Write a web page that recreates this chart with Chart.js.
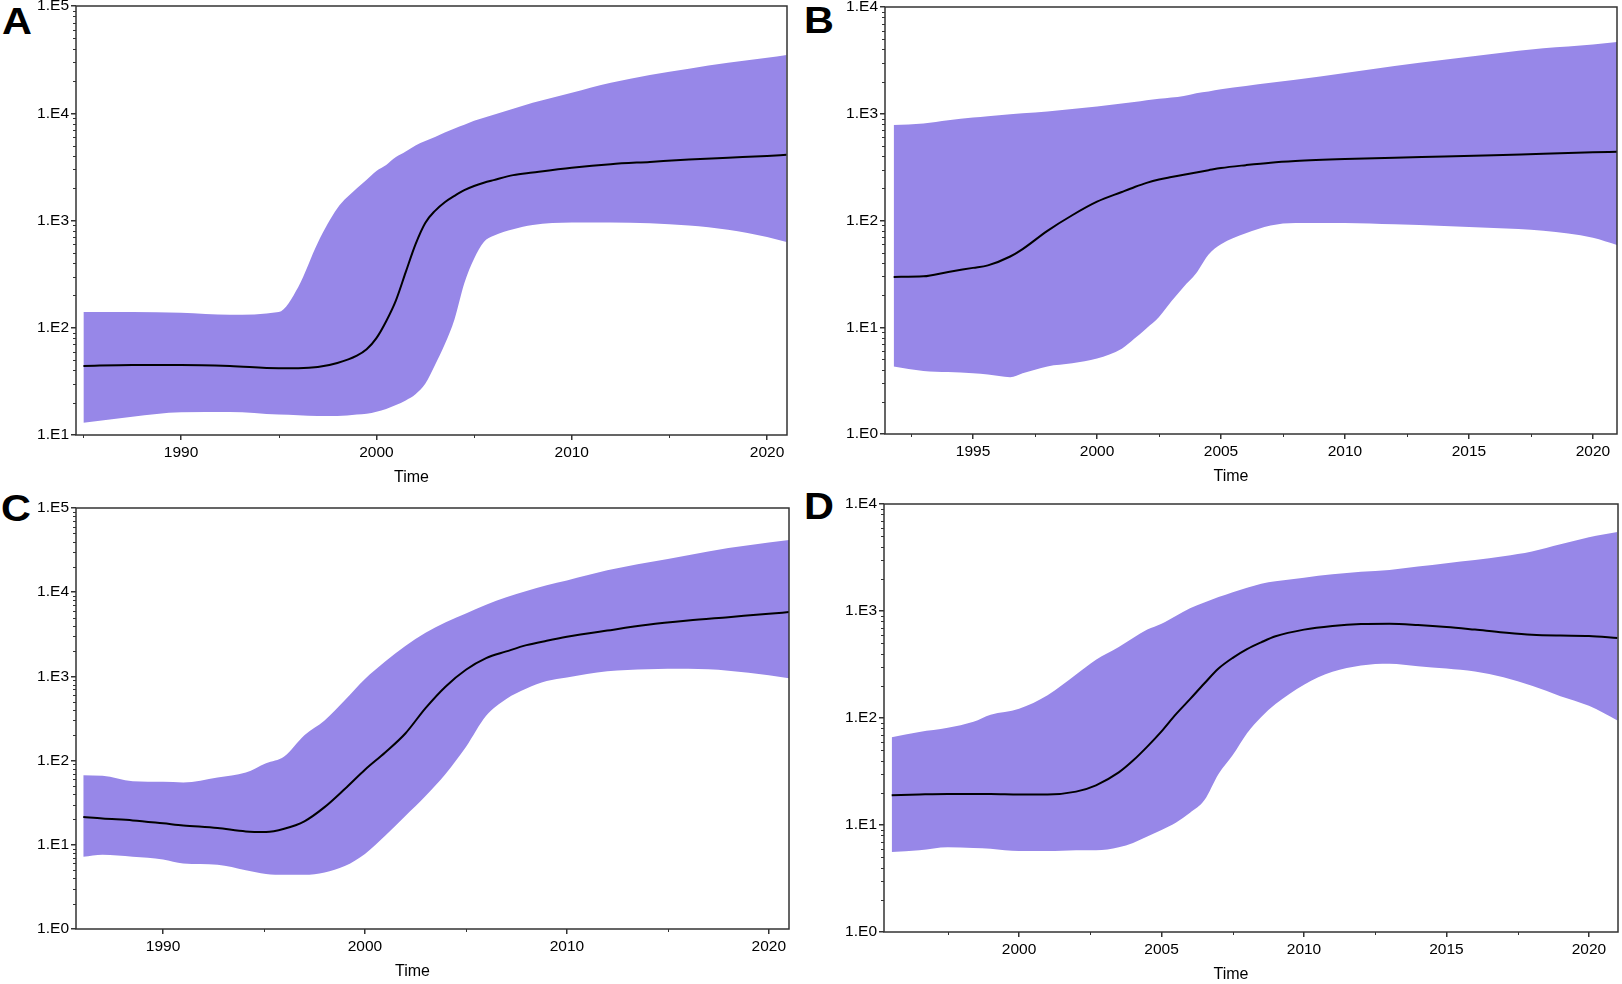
<!DOCTYPE html>
<html>
<head>
<meta charset="utf-8">
<script src="https://cdn.jsdelivr.net/npm/chart.js@4.4.0/dist/chart.umd.min.js"></script>
<style>
body { margin:0; width:1622px; height:984px; position:relative; overflow:hidden; background:#fff; font-family:"Liberation Sans", Arial, sans-serif; }
canvas { position:absolute; }
.lettre { position:absolute; font-weight:bold; font-size:37px; line-height:1; color:#000; transform:scaleX(1.12); transform-origin:left top; }
</style>
</head>
<body>
<div class="lettre" style="left:2px;top:3px">A</div>
<div class="lettre" style="left:804px;top:2px">B</div>
<div class="lettre" style="left:1px;top:490px">C</div>
<div class="lettre" style="left:804px;top:488px">D</div>
<canvas id="chartA"></canvas>
<canvas id="chartB"></canvas>
<canvas id="chartC"></canvas>
<canvas id="chartD"></canvas>
<script>
// Donnees panel A
var yearsA = [1985, 1987.5, 1990, 1992.5, 1995, 1996, 1997, 1998, 1999, 1999.5, 2000, 2000.5, 2001, 2001.5, 2002, 2002.5, 2003, 2003.5, 2004, 2004.5, 2005, 2005.5, 2006, 2007, 2008, 2010, 2012, 2014, 2016, 2018, 2020, 2021]
var medianA = [44, 45, 45, 44, 42, 42, 43, 47, 55, 63, 80, 115, 180, 330, 600, 950, 1230, 1480, 1700, 1920, 2100, 2250, 2380, 2650, 2800, 3100, 3350, 3520, 3700, 3850, 4000, 4100]
var upperA = [140, 140, 138, 132, 140, 240, 620, 1300, 2000, 2400, 2900, 3300, 3900, 4400, 5000, 5500, 6000, 6600, 7200, 7800, 8500, 9100, 9700, 11000, 12500, 15500, 19200, 22700, 26000, 29500, 33000, 35000]
var lowerA = [13, 14.8, 16.3, 16.4, 15.5, 15.3, 15, 15, 15.5, 15.8, 16.5, 17.5, 19, 21, 24, 30, 45, 70, 120, 260, 440, 630, 720, 830, 910, 960, 960, 945, 900, 820, 700, 630]

// Donnees panel B
var yearsB = [1991.8, 1993, 1994, 1995, 1995.6, 1996.5, 1997, 1998, 1999, 2000, 2001, 2001.5, 2002, 2002.5, 2003, 2003.5, 2004, 2004.5, 2005, 2006, 2007, 2008, 2010, 2012, 2014, 2016, 2018, 2020, 2020.97]
var medianB = [29.6, 30, 33, 36, 38, 46, 54, 80, 112, 150, 185, 205, 225, 242, 255, 268, 282, 296, 310, 330, 348, 360, 376, 388, 397, 408, 422, 435, 440]
var upperB = [785, 810, 870, 920, 950, 990, 1010, 1050, 1110, 1170, 1250, 1290, 1340, 1380, 1420, 1470, 1560, 1620, 1700, 1820, 1950, 2080, 2410, 2800, 3200, 3650, 4100, 4450, 4700]
var lowerB = [4.3, 3.9, 3.8, 3.7, 3.6, 3.4, 3.7, 4.3, 4.6, 5.1, 6.3, 7.8, 9.8, 12.5, 17.5, 24, 32, 48, 60, 76, 90, 95, 95, 92, 89, 85, 80, 69, 59]

// Donnees panel C
var yearsC = [1986.05, 1987, 1988.5, 1990, 1991, 1992.7, 1994.1, 1995.1, 1996, 1997, 1998, 1999, 2000, 2001, 2002, 2003, 2004, 2005, 2006, 2007, 2008, 2009, 2010, 2012, 2014, 2016, 2018, 2020, 2021]
var medianC = [21.4, 20.5, 19.5, 18, 17, 15.8, 14.4, 14.2, 15.5, 19, 28, 46, 78, 125, 210, 420, 760, 1200, 1650, 1980, 2350, 2650, 2950, 3500, 4100, 4600, 5050, 5550, 5800]
var upperC = [67, 66, 57, 56, 55, 63, 72, 93, 112, 200, 300, 520, 930, 1500, 2300, 3300, 4400, 5600, 7100, 8700, 10300, 12100, 13800, 18200, 22500, 27500, 33500, 39000, 41800]
var lowerC = [7.2, 7.6, 7.2, 6.7, 6.0, 5.8, 5.0, 4.5, 4.4, 4.4, 4.7, 5.6, 7.8, 12.8, 22, 38, 70, 145, 340, 540, 720, 880, 970, 1150, 1220, 1230, 1170, 1030, 950]

// Donnees panel D
var yearsD = [1995.53, 1996.5, 1997.5, 1998.4, 1999, 2000, 2001, 2002, 2002.7, 2003.5, 2004, 2004.5, 2005, 2005.5, 2006, 2006.5, 2007, 2007.5, 2008, 2008.5, 2009, 2010, 2011, 2012, 2013, 2014, 2015, 2016, 2017, 2018, 2019, 2020, 2021]
var medianD = [19, 19.3, 19.5, 19.5, 19.5, 19.3, 19.3, 20.5, 23.5, 31, 40, 54, 75, 108, 150, 210, 290, 365, 440, 510, 580, 670, 725, 755, 760, 740, 710, 670, 630, 600, 590, 585, 560]
var upperD = [66, 74, 81, 92, 107, 122, 163, 255, 350, 460, 560, 670, 760, 900, 1060, 1200, 1350, 1500, 1650, 1800, 1900, 2050, 2200, 2330, 2420, 2600, 2800, 3000, 3250, 3600, 4200, 4900, 5470]
var lowerD = [5.6, 5.8, 6.2, 6.1, 6.0, 5.7, 5.7, 5.8, 5.8, 6.2, 6.8, 7.8, 9, 10.5, 13, 17, 30, 45, 72, 102, 135, 205, 270, 310, 322, 305, 290, 272, 240, 200, 160, 130, 95]

// Ticks des axes
var xTicksAC = [1990, 2000, 2010, 2020]
var xMinorA = [1985, 1995, 2005, 2015]
var xMinorC = [1995, 2005, 2015]
var xTicksB = [1995, 2000, 2005, 2010, 2015, 2020]
var xMinorB = [1992.5, 1997.5, 2002.5, 2007.5, 2012.5, 2017.5]
var xTicksD = [2000, 2005, 2010, 2015, 2020]
var xMinorD = [1997.5, 2002.5, 2007.5, 2012.5, 2017.5]

var couleurBande = 'rgb(151,135,232)'
var couleurAxe = '#333'
var policeTicks = {family: '"Liberation Sans", Arial, sans-serif', size: 15.5}

// cadre, petits ticks et titre "Time"
var pluginCadre = {
    id: 'cadre',
    afterDraw: function(chart, args, opts) {
        var ctx = chart.ctx
        var a = chart.chartArea
        var sx = chart.scales.x
        var sy = chart.scales.y
        ctx.save()
        ctx.strokeStyle = couleurAxe
        ctx.lineWidth = 1.5
        ctx.strokeRect(a.left, a.top, a.right - a.left, a.bottom - a.top)
        ctx.lineWidth = 1
        ctx.beginPath()
        for (var e = opts.expMin; e < opts.expMax; e++) {
            for (var k = 2; k < 10; k++) {
                var y = Math.round(sy.getPixelForValue(k * Math.pow(10, e))) + 0.5
                ctx.moveTo(a.left - 3, y)
                ctx.lineTo(a.left, y)
            }
        }
        for (var i = 0; i < opts.minor.length; i++) {
            var x = Math.round(sx.getPixelForValue(opts.minor[i])) + 0.5
            ctx.moveTo(x, a.bottom)
            ctx.lineTo(x, a.bottom + 3)
        }
        ctx.stroke()
        ctx.fillStyle = '#000'
        ctx.font = '16px "Liberation Sans Narrow", "Liberation Sans", Arial, sans-serif'
        ctx.textAlign = 'center'
        ctx.textBaseline = 'middle'
        ctx.fillText('Time', (a.left + a.right) / 2 - 20, a.bottom + 43)
        ctx.restore()
    }
}

function creerPanel(id, box, xMin, xMax, xTicks, xMinor, expMin, expMax, years, median, lower, upper) {
    var canvas = document.getElementById(id)
    canvas.width = (box.right - box.left) + 90 + 30
    canvas.height = (box.bottom - box.top) + 20 + 70
    canvas.style.left = (box.left - 90) + 'px'
    canvas.style.top = (box.top - 20) + 'px'

    var ptsMed = years.map(function(x, i) { return {x: x, y: median[i]} })
    var ptsUp = years.map(function(x, i) { return {x: x, y: upper[i]} })
    var ptsLow = years.map(function(x, i) { return {x: x, y: lower[i]} })

    var config = {
        type: 'line',
        data: {
            datasets: [
                {label: 'Median', data: ptsMed, borderColor: '#000', borderWidth: 2, pointRadius: 0, fill: false, cubicInterpolationMode: 'monotone'},
                {label: '95% HPD upper', data: ptsUp, borderWidth: 0, borderColor: 'rgba(0,0,0,0)', backgroundColor: couleurBande, pointRadius: 0, fill: '+1', cubicInterpolationMode: 'monotone'},
                {label: '95% HPD lower', data: ptsLow, borderWidth: 0, borderColor: 'rgba(0,0,0,0)', pointRadius: 0, fill: false, cubicInterpolationMode: 'monotone'}
            ]
        },
        options: {
            responsive: false,
            animation: false,
            events: [],
            layout: {padding: {left: 0, top: 20, right: 30, bottom: 0}},
            plugins: {
                legend: {display: false},
                tooltip: {enabled: false},
                cadre: {minor: xMinor, expMin: expMin, expMax: expMax}
            },
            scales: {
                x: {
                    type: 'linear',
                    min: xMin,
                    max: xMax,
                    afterBuildTicks: function(s) { s.ticks = xTicks.map(function(v) { return {value: v} }) },
                    afterFit: function(s) { s.height = 70 },
                    ticks: {
                        callback: function(v) { return String(v) },
                        font: policeTicks,
                        color: '#000',
                        padding: 3,
                        maxRotation: 0,
                        autoSkip: false
                    },
                    grid: {drawOnChartArea: false, drawTicks: true, tickLength: 5, color: couleurAxe, lineWidth: 1.5},
                    border: {display: false}
                },
                y: {
                    type: 'logarithmic',
                    min: Math.pow(10, expMin),
                    max: Math.pow(10, expMax),
                    afterBuildTicks: function(s) {
                        var t = []
                        for (var e = expMin; e <= expMax; e++) t.push({value: Math.pow(10, e)})
                        s.ticks = t
                    },
                    afterFit: function(s) { s.width = 90 },
                    ticks: {
                        callback: function(v) { return '1.E' + Math.round(Math.log10(v)) },
                        font: policeTicks,
                        color: '#000',
                        padding: 2,
                        autoSkip: false
                    },
                    grid: {drawOnChartArea: false, drawTicks: true, tickLength: 5, color: couleurAxe, lineWidth: 1.5},
                    border: {display: false}
                }
            }
        },
        plugins: [pluginCadre]
    }
    return new Chart(canvas.getContext('2d'), config)
}

var chartA = creerPanel('chartA', {left: 76, top: 6, right: 787, bottom: 435}, 1984.62, 2021.02, xTicksAC, xMinorA, 1, 5, yearsA, medianA, lowerA, upperA)
var chartB = creerPanel('chartB', {left: 885, top: 7, right: 1617, bottom: 434}, 1991.45, 2020.97, xTicksB, xMinorB, 0, 4, yearsB, medianB, lowerB, upperB)
var chartC = creerPanel('chartC', {left: 76, top: 508, right: 789, bottom: 929}, 1985.69, 2021.0, xTicksAC, xMinorC, 0, 5, yearsC, medianC, lowerC, upperC)
var chartD = creerPanel('chartD', {left: 884, top: 504, right: 1618, bottom: 932}, 1995.26, 2021.02, xTicksD, xMinorD, 0, 4, yearsD, medianD, lowerD, upperD)
</script>
</body>
</html>
